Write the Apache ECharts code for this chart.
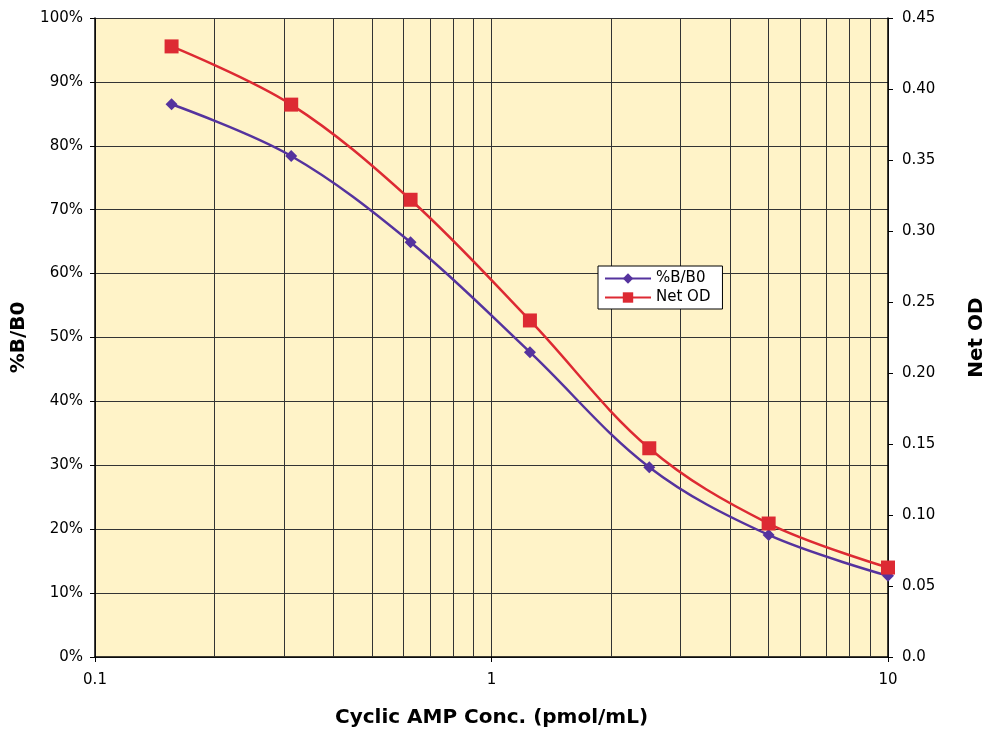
<!DOCTYPE html>
<html><head><meta charset="utf-8">
<script src="https://cdn.jsdelivr.net/npm/echarts@6/dist/echarts.min.js"></script>
<style>html,body{margin:0;padding:0;background:#fff}#c{width:987px;height:729px}</style>
</head><body><div id="c"></div>
<script>
const concentrations = [0.156, 0.3125, 0.625, 1.25, 2.5, 5, 10];
const pctBB0 = [86.5, 78.4, 64.9, 47.7, 29.7, 19.1, 12.7];
const netOD = [0.430, 0.389, 0.322, 0.237, 0.147, 0.094, 0.063];
const minorGridValues = [0.2,0.3,0.4,0.5,0.6,0.7,0.8,0.9,2,3,4,5,6,7,8,9];
const FONT = 'DejaVu Sans';
const chart = echarts.init(document.getElementById('c'));
chart.setOption({
  animation: false,
  textStyle: {fontFamily: FONT},
  grid: {left: 95, right: 99, top: 18, bottom: 72, show: true, backgroundColor: '#FFF3C8', borderWidth: 0,
    containLabel: false, outerBoundsMode: 'none'},
  legend: {
    data: ['%B/B0', 'Net OD'], orient: 'vertical', left: 598, top: 266,
    backgroundColor: '#fff', borderColor: '#000', borderWidth: 1, padding: [5, 12, 4, 6],
    itemGap: 4, itemWidth: 46, itemHeight: 13,
    textStyle: {fontFamily: FONT, fontSize: 15, color: '#000'}
  },
  xAxis: {
    type: 'log', logBase: 10, min: 0.1, max: 10,
    name: 'Cyclic AMP Conc. (pmol/mL)', nameLocation: 'middle', nameGap: 51,
    nameTextStyle: {fontFamily: FONT, fontWeight: 'bold', fontSize: 20, color: '#000'},
    axisLine: {lineStyle: {color: '#000', width: 1.5}},
    axisTick: {show: true, length: 5, lineStyle: {color: '#000'}},
    axisLabel: {color: '#000', fontSize: 15, margin: 16, formatter: v => String(v)},
    splitLine: {show: true, lineStyle: {color: '#333', width: 1}}
  },
  yAxis: [{
    type: 'value', min: 0, max: 100, interval: 10, position: 'left',
    name: '%B/B0', nameLocation: 'middle', nameGap: 64, nameRotate: 90,
    nameTextStyle: {fontFamily: FONT, fontWeight: 'bold', fontSize: 20, color: '#000'},
    axisLine: {show: true, lineStyle: {color: '#000', width: 1.5}},
    axisTick: {show: true, length: 5, lineStyle: {color: '#000'}},
    axisLabel: {color: '#000', fontSize: 15, margin: 12, formatter: '{value}%'},
    splitLine: {show: true, lineStyle: {color: '#333', width: 1}}
  }, {
    type: 'value', min: 0, max: 0.45, interval: 0.05, position: 'right',
    name: 'Net OD', nameLocation: 'middle', nameGap: 79, nameRotate: 90,
    nameTextStyle: {fontFamily: FONT, fontWeight: 'bold', fontSize: 20, color: '#000'},
    axisLine: {show: true, lineStyle: {color: '#000', width: 1.5}},
    axisTick: {show: true, length: 5, inside: false, lineStyle: {color: '#000'}},
    axisLabel: {color: '#000', fontSize: 15, margin: 14,
      formatter: v => v === 0 ? '0.0' : v.toFixed(2)},
    splitLine: {show: false}
  }],
  series: [{
    name: '%B/B0', type: 'line', yAxisIndex: 0, smooth: 0.35,
    data: concentrations.map((c, i) => [c, pctBB0[i]]),
    symbol: 'diamond', symbolSize: 12,
    itemStyle: {color: '#55339E'}, lineStyle: {color: '#55339E', width: 2.5},
    z: 3,
    markLine: {
      silent: true, symbol: 'none', label: {show: false},
      lineStyle: {color: '#333', width: 1, type: 'solid'},
      data: minorGridValues.map(v => ({xAxis: v})),
      z: 1
    }
  }, {
    name: 'Net OD', type: 'line', yAxisIndex: 1, smooth: 0.35,
    data: concentrations.map((c, i) => [c, netOD[i]]),
    symbol: 'rect', symbolSize: 14,
    itemStyle: {color: '#DD2A33'}, lineStyle: {color: '#DD2A33', width: 2.5},
    z: 4
  }]
});
</script></body></html>
